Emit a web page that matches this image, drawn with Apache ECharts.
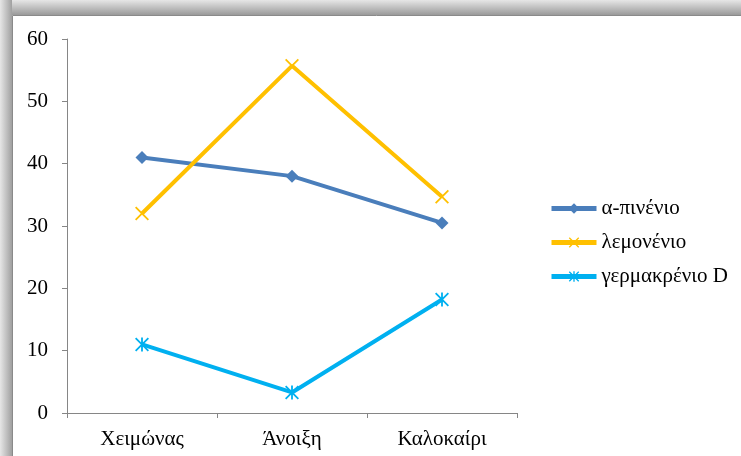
<!DOCTYPE html>
<html><head><meta charset="utf-8">
<script src="https://cdn.jsdelivr.net/npm/echarts@6/dist/echarts.min.js"></script>
<style>html,body{margin:0;padding:0;background:#fff;}#c{width:741px;height:456px;}</style>
</head><body><div id="c"></div>
<script>
const categories = ['Χειμώνας', 'Άνοιξη', 'Καλοκαίρι'];
const seriesNames = ['α-πινένιο', 'λεμονένιο', 'γερμακρένιο D'];
const pinene = [41, 38, 30.5];
const limonene = [32, 55.7, 34.7];
const germacrene = [11, 3.3, 18.2];
const yTicks = [0, 10, 20, 30, 40, 50, 60];

const FONT = "'Times New Roman', 'Liberation Serif', 'DejaVu Serif', serif";
const xPath = 'path://M0,0.9 L0.9,0 L5,4.1 L9.1,0 L10,0.9 L5.9,5 L10,9.1 L9.1,10 L5,5.9 L0.9,10 L0,9.1 L4.1,5 Z';
const starPath = 'path://M0,0.9 L0.9,0 L5,4.1 L9.1,0 L10,0.9 L5.9,5 L10,9.1 L9.1,10 L5,5.9 L0.9,10 L0,9.1 L4.1,5 Z M4.35,0 L5.65,0 L5.65,10 L4.35,10 Z';

const chart = echarts.init(document.getElementById('c'));
chart.setOption({
  backgroundColor: '#fff',
  animation: false,
  graphic: [
    { type: 'rect', shape: { x: 0, y: 0, width: 741, height: 15 }, silent: true, z: -10,
      style: { fill: new echarts.graphic.LinearGradient(0, 0, 0, 1, [{ offset: 0, color: '#e6e6e6' }, { offset: 1, color: '#9a9a9a' }]) } },
    { type: 'rect', shape: { x: 0, y: 0, width: 12, height: 456 }, silent: true, z: -10,
      style: { fill: new echarts.graphic.LinearGradient(0, 0, 1, 0, [{ offset: 0, color: '#e6e6e6' }, { offset: 1, color: '#a0a0a0' }]) } },
    { type: 'polyline', shape: { points: [[12.5, 456], [12.5, 15.5], [741, 15.5]] }, silent: true, z: -9,
      style: { stroke: '#8a8a8a', lineWidth: 1, fill: null } }
  ],
  grid: { left: 67, right: 224, top: 39, bottom: 43, containLabel: false },
  legend: {
    orient: 'vertical', left: 544, top: 193,
    itemWidth: 45, itemHeight: 13, itemGap: 13,
    lineStyle: { width: 5 },
    textStyle: { fontFamily: FONT, fontSize: 21, color: '#000' },
    data: seriesNames
  },
  xAxis: {
    type: 'category', data: categories, boundaryGap: true,
    axisLine: { lineStyle: { color: '#868686', width: 1 } },
    axisTick: { show: true, length: 5, lineStyle: { color: '#868686' } },
    axisLabel: { fontFamily: FONT, fontSize: 21, color: '#000', margin: 16 }
  },
  yAxis: {
    type: 'value', min: yTicks[0], max: yTicks[yTicks.length - 1], interval: 10,
    axisLine: { show: true, lineStyle: { color: '#868686', width: 1 } },
    axisTick: { show: true, length: 5, lineStyle: { color: '#868686' } },
    splitLine: { show: false },
    axisLabel: { fontFamily: FONT, fontSize: 21, color: '#000', margin: 19 }
  },
  series: [
    { name: seriesNames[0], type: 'line', data: pinene, symbol: 'diamond', symbolSize: 13,
      lineStyle: { color: '#4a7ebb', width: 4 }, itemStyle: { color: '#4a7ebb' } },
    { name: seriesNames[1], type: 'line', data: limonene, symbol: xPath, symbolSize: 14,
      lineStyle: { color: '#ffc000', width: 4 }, itemStyle: { color: '#ffc000' } },
    { name: seriesNames[2], type: 'line', data: germacrene, symbol: starPath, symbolSize: 14,
      lineStyle: { color: '#00b0f0', width: 4 }, itemStyle: { color: '#00b0f0' } }
  ]
});
</script></body></html>
